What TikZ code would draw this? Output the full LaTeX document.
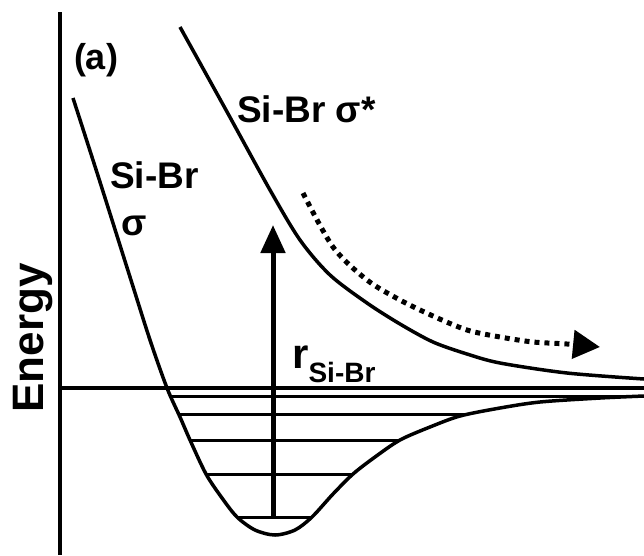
\documentclass[tikz,border=0pt]{standalone}
\usepackage{fontspec}
\setmainfont{Liberation Sans}
\usetikzlibrary{arrows.meta}
\begin{document}
\begin{tikzpicture}[x=1pt,y=-1pt,
  curve/.style={line width=3.5pt},
  level/.style={line width=3pt},
  lbl/.style={inner sep=0pt,font=\bfseries\fontsize{37}{37}\selectfont}]
\useasboundingbox (0,0) rectangle (644,555);
\draw[line width=4pt] (60,12) -- (60,555);
\draw[line width=3.5pt] (60,388) -- (644,388);
% ground state
\draw[curve] plot[smooth] coordinates {(73,98) (100,182) (130,277) (150,340) (167,388) (180,417) (190,440) (206,474) (222,498) (237,517) (255,530) (275,535) (295,530) (312,517) (333,494) (353,474) (375,457) (400,440) (430,427) (460,416) (500,408) (540,402) (600,398) (644,396)};
\begin{scope}
\clip plot[smooth] coordinates {(73,98) (100,182) (130,277) (150,340) (167,388) (180,417) (190,440) (206,474) (222,498) (237,517) (255,530) (275,535) (295,530) (312,517) (333,494) (353,474) (375,457) (400,440) (430,427) (460,416) (500,408) (540,402) (600,398) (644,396)} -- cycle;
\foreach \lev in {396,414,440,474,517}
  \draw[level] (60,\lev) -- (644,\lev);
\end{scope}
% excited state
\draw[curve] plot[smooth] coordinates {(180,27) (226,110) (270,190) (300,240) (330,275) (367,303) (400,324) (433,342) (467,354) (500,363) (567,373) (644,379)};
% excitation and dissociation
\coordinate (lowlev) at (273,517);
\coordinate (uptip) at (273,225);
\draw[line width=5pt,-{Triangle[length=28pt,width=24pt]}] (lowlev) -- (uptip);
\draw[line width=5pt,dash pattern=on 5pt off 5pt,-{Triangle[length=27pt,width=28pt]}]
  plot[smooth] coordinates {(303,193) (333,247) (367,280) (400,300) (433,316) (467,330) (500,337) (533,342) (567,344) (600,347)};
\node[lbl,font=\bfseries\fontsize{44}{44}\selectfont,rotate=90,anchor=base] (energy) at (43,338) {Energy};
\node[lbl,font=\bfseries\fontsize{36}{36}\selectfont] (panel) at (96,60) {(a)};
\node[lbl,anchor=base west] (gslbl) at (110,188) {Si-Br};
\node[lbl,anchor=base west] (gssig) at (121,235) {σ};
\node[lbl,anchor=base west] (exlbl) at (237,122) {Si-Br σ*};
\node[lbl,anchor=base west] (rlbl) at (292,368) {\fontsize{42}{42}\selectfont r\raisebox{-14pt}{\fontsize{28}{28}\selectfont Si-Br}};
\end{tikzpicture}
\end{document}
